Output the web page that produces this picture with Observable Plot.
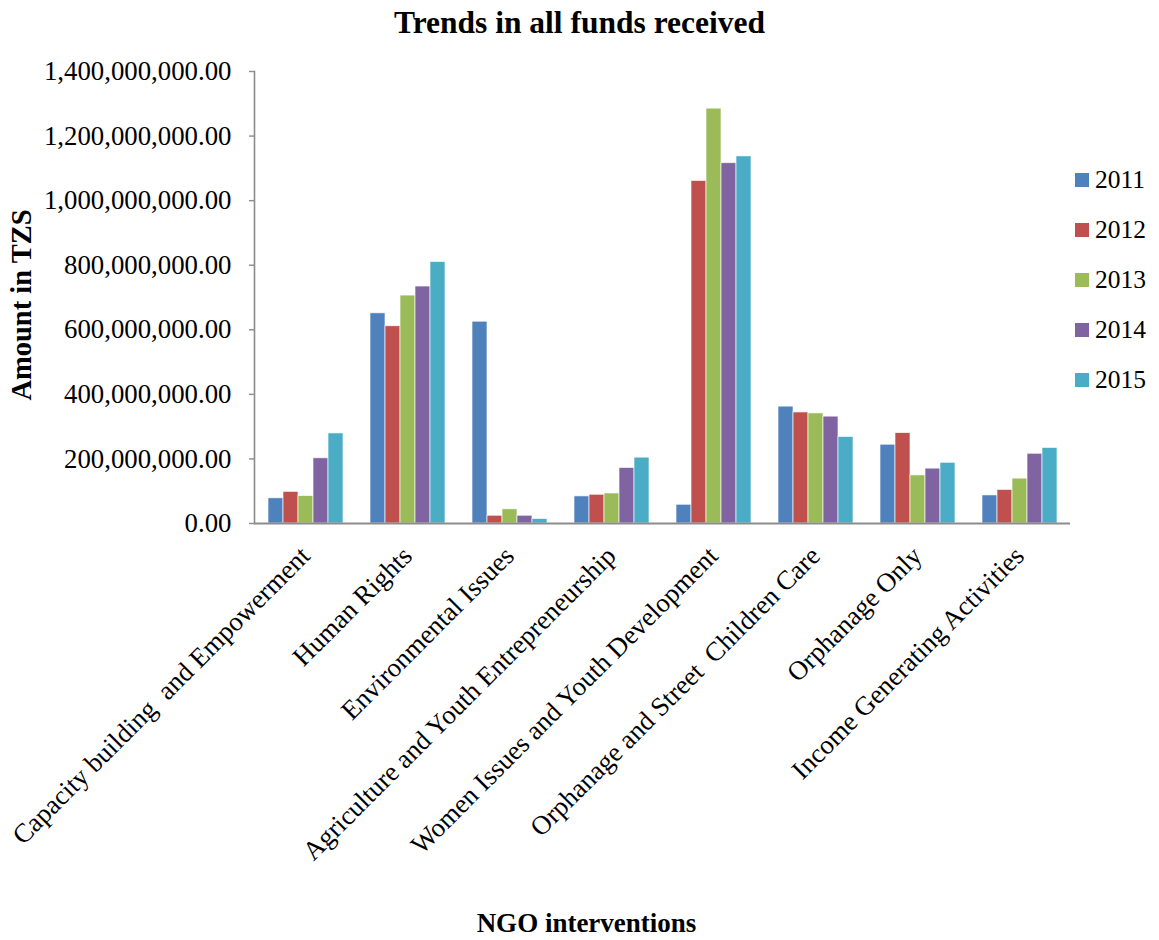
<!DOCTYPE html>
<html>
<head>
<meta charset="utf-8">
<script src="https://cdn.jsdelivr.net/npm/d3@7"></script>
<script src="https://cdn.jsdelivr.net/npm/@observablehq/plot@0.6"></script>
<style>
  html, body { margin: 0; padding: 0; background: #fff; }
  #page { position: relative; width: 1159px; height: 940px; font-family: "Liberation Serif", "Times New Roman", serif; color: #000; }
  #title { height: 46px; line-height: 46px; text-align: center; font-size: 31.5px; font-weight: bold; }
  #chart svg { display: block; overflow: visible; }
  #chart text { white-space: pre; }
  #xtitle { height: 34px; line-height: 34px; text-align: center; font-size: 27px; font-weight: bold; padding-left: 14px; }
  #ytitle { position: absolute; left: 22px; top: 305px; transform: translate(-50%, -50%) rotate(-90deg); font-size: 28.5px; font-weight: bold; white-space: nowrap; }
  #legend { position: absolute; left: 1075px; top: 155px; }
  #legend .row { display: flex; align-items: center; height: 50px; font-size: 25.5px; }
  #legend .sw { width: 14px; height: 14px; margin-right: 6px; }
</style>
</head>
<body>
<div id="page">
  <div id="title">Trends in all funds received</div>
  <div id="chart"></div>
  <div id="xtitle">NGO interventions</div>
  <div id="ytitle">Amount in TZS</div>
  <div id="legend"></div>
</div>
<script>
// NGO intervention areas (x categories)
const categories = [
  "Capacity building  and Empowerment",
  "Human Rights",
  "Environmental Issues",
  "Agriculture and Youth Entrepreneurship",
  "Women Issues and Youth Development",
  "Orphanage and Street  Children Care",
  "Orphanage Only",
  "Income Generating Activities"
];

const years = ["2011", "2012", "2013", "2014", "2015"];
const yearColors = ["#4F81BD", "#C0504D", "#9BBB59", "#8064A2", "#4BACC6"];

// Funds received per intervention, in TZS
const funds2011 = [78e6, 651e6, 625e6, 84e6, 58e6, 362e6, 244e6, 87e6];
const funds2012 = [98e6, 611e6, 24e6, 89e6, 1061e6, 344e6, 280e6, 104e6];
const funds2013 = [85e6, 706e6, 44e6, 93e6, 1285e6, 341e6, 149e6, 139e6];
const funds2014 = [202e6, 734e6, 24e6, 172e6, 1116e6, 331e6, 170e6, 216e6];
const funds2015 = [279e6, 810e6, 14e6, 204e6, 1137e6, 268e6, 188e6, 234e6];

const series = [funds2011, funds2012, funds2013, funds2014, funds2015];

// Long-format table: one row per (intervention, year)
const rows = [];
categories.forEach((cat, i) => {
  years.forEach((yr, j) => rows.push({category: cat, year: yr, amount: series[j][i]}));
});

const plot = Plot.plot({
  width: 1159,
  height: 860,
  marginLeft: 253,
  marginRight: 89,
  marginTop: 25,
  marginBottom: 383,
  style: {fontFamily: "Liberation Serif, Times New Roman, serif", color: "#000", background: "transparent"},
  fx: {domain: categories, padding: 0, label: null},
  x: {domain: years, paddingInner: 0, paddingOuter: 0.743, axis: null},
  y: {domain: [0, 1.4e9], axis: null},
  color: {domain: years, range: yearColors},
  marks: [
    Plot.axisY({
      ticks: 7,
      tickSize: 5,
      tickPadding: 18,
      tickFormat: d3.format(",.2f"),
      fontSize: 26.8,
      stroke: "#8c8c8c",
      strokeWidth: 1.4,
      label: null
    }),
    Plot.axisFx({
      anchor: "bottom",
      tickRotate: -45,
      tickSize: 0,
      tickPadding: 28,
      fontSize: 26.8,
      label: null
    }),
    Plot.barY(rows, {
      fx: "category",
      x: "year",
      y: "amount",
      fill: "year",
      stroke: "white",
      strokeWidth: 0.8,
      strokeOpacity: 0.8
    }),
    Plot.frame({anchor: "left", facetAnchor: "left", stroke: "#8c8c8c", strokeWidth: 1.6}),
    Plot.ruleY([0], {stroke: "#8c8c8c", strokeWidth: 2})
  ]
});

document.getElementById("chart").appendChild(plot);

// Year legend on the right
const legend = d3.select("#legend");
years.forEach((yr, j) => {
  const row = legend.append("div").attr("class", "row");
  row.append("div").attr("class", "sw").style("background", yearColors[j]);
  row.append("span").text(yr);
});
</script>
</body>
</html>
